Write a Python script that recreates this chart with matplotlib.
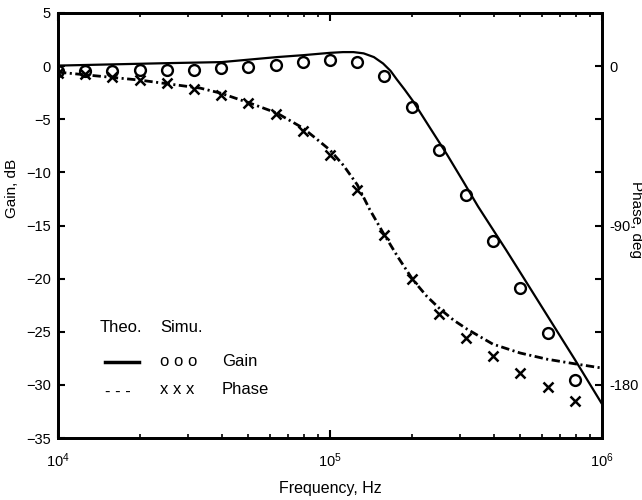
import numpy as np
import matplotlib
matplotlib.use("Agg")
from matplotlib import pyplot as plt
from matplotlib.lines import Line2D
from matplotlib.ticker import FixedLocator, LogLocator, NullFormatter

plt.rcParams['font.family'] = ['Liberation Sans', 'DejaVu Sans']
plt.rcParams['mathtext.fontset'] = 'custom'
plt.rcParams['mathtext.rm'] = 'Liberation Sans'
plt.rcParams['mathtext.default'] = 'regular'
plt.rcParams['lines.scale_dashes'] = False

# simulated points (10 per decade)
freqSim = [1.0e4, 1.26e4, 1.58e4, 2.0e4, 2.51e4, 3.16e4, 3.98e4, 5.01e4, 6.31e4, 7.94e4,
           1.0e5, 1.26e5, 1.58e5, 2.0e5, 2.51e5, 3.16e5, 3.98e5, 5.01e5, 6.31e5, 7.94e5]
gainSim = [-0.5, -0.5, -0.45, -0.4, -0.4, -0.4, -0.2, -0.1, 0.1, 0.35,
           0.55, 0.35, -0.95, -3.85, -7.9, -12.1, -16.5, -20.9, -25.1, -29.5]
phaseSim = [-4.0, -4.5, -6.2, -7.9, -9.6, -13.0, -16.4, -20.9, -27.1, -36.7,
            -50.3, -70.0, -95.4, -120.0, -139.8, -153.6, -163.8, -173.4, -181.0, -188.9]

# theoretical curves
freqGainTh = [1.0e4, 2.52e4, 4.0e4, 6.38e4, 7.96e4, 1.0e5, 1.117e5, 1.22e5, 1.33e5, 1.45e5,
              1.567e5, 1.67e5, 1.76e5, 1.88e5, 2.02e5, 2.33e5, 2.69e5, 3.08e5, 3.50e5, 4.44e5,
              5.0e5, 6.3e5, 7.94e5, 1.0e6]
gainTh = [0.05, 0.28, 0.38, 0.85, 1.03, 1.25, 1.32, 1.32, 1.2, 0.85,
          0.25, -0.45, -1.25, -2.2, -3.3, -5.8, -8.3, -10.8, -13.2, -17.3,
          -19.4, -23.5, -27.6, -31.8]
freqPhaseTh = [1.0e4, 2.0e4, 3.33e4, 3.95e4, 5.08e4, 6.38e4, 7.96e4, 8.9e4, 1.0e5, 1.12e5,
               1.26e5, 1.4e5, 1.57e5, 1.78e5, 2.02e5, 2.27e5, 2.54e5, 2.85e5, 3.19e5, 3.97e5,
               5.0e5, 6.28e5, 8.09e5, 1.0e6]
phaseTh = [-3.4, -7.9, -12.4, -15.2, -20.9, -26.5, -35.0, -41.0, -47.4, -56.0,
           -67.0, -81.0, -94.3, -108.0, -120.8, -130.0, -137.2, -143.5, -148.5, -157.0,
           -162.0, -165.5, -168.3, -170.5]

gainTicks = [5, 0, -5, -10, -15, -20, -25, -30, -35]
phaseTicks = [0, -30, -60, -90, -120, -150, -180]
phaseLabels = ['0', '', '', '-90', '', '', '-180']

fig = plt.figure(figsize=(6.42, 5.0), dpi=100)
ax = fig.add_axes([58/642, 1-438/500, 544/642, 425/500])
ax2 = ax.twinx()

ax.set_xscale('log')
ax.set_xlim(1e4, 1e6)
ax.set_ylim(-35, 5)
ax2.set_ylim(-210, 30)

ax.plot(freqGainTh, gainTh, color='black', lw=1.6, solid_capstyle='butt')
ax.plot(freqSim, gainSim, ls='none', marker='o', ms=7.8, mfc='none', mec='black', mew=1.7)
ax2.plot(freqPhaseTh, phaseTh, color='black', lw=2.0, dashes=[6, 2.5, 1.5, 2.5])
ax2.plot(freqSim, phaseSim, ls='none', marker='x', ms=6.5, mec='black', mew=1.8)

ax.set_yticks(gainTicks)
ax.xaxis.set_major_locator(FixedLocator([1e4, 1e5, 1e6]))
ax.xaxis.set_minor_locator(LogLocator(base=10, subs=np.arange(2, 10)))
ax.xaxis.set_minor_formatter(NullFormatter())
ax.set_xticklabels(['$10^{4}$', '$10^{5}$', '$10^{6}$'])
ax2.set_yticks(phaseTicks)
ax2.set_yticklabels(phaseLabels)

ax.tick_params(axis='x', which='both', direction='in', top=True, colors='black', labelsize=10.5, pad=10)
ax.tick_params(axis='x', which='major', length=6, width=1.5)
ax.tick_params(axis='x', which='minor', length=3, width=1.2)
ax.tick_params(axis='y', direction='in', length=5, width=1.5, labelsize=10.5, pad=5)
ax2.tick_params(axis='y', direction='in', length=5, width=1.5, labelsize=10.5, pad=5)

for a in (ax, ax2):
    for s in a.spines.values():
        s.set_linewidth(2.0)

ax.set_xlabel('Frequency, Hz', fontsize=11.5)
ax.xaxis.set_label_coords(0.5, -0.1)
ax.set_ylabel('Gain, dB', fontsize=11)
ax.yaxis.set_label_coords(-0.072, 0.588)
ax2.set_ylabel('Phase, deg', fontsize=11, rotation=270, va='center')
ax2.yaxis.set_label_coords(1.062, 0.515)

# hand made legend table
lgs = 12
ax.text(0.077, 0.259, 'Theo.', transform=ax.transAxes, fontsize=lgs, va='center')
ax.text(0.188, 0.259, 'Simu.', transform=ax.transAxes, fontsize=lgs, va='center')
ax.add_line(Line2D([0.086, 0.149], [0.179, 0.179], transform=ax.transAxes, color='black', lw=2.5))
ax.text(0.188, 0.181, 'o o o', transform=ax.transAxes, fontsize=lgs, va='center')
ax.text(0.301, 0.181, 'Gain', transform=ax.transAxes, fontsize=lgs, va='center')
ax.text(0.086, 0.110, '- - -', transform=ax.transAxes, fontsize=lgs, va='center')
ax.text(0.188, 0.113, 'x x x', transform=ax.transAxes, fontsize=lgs, va='center')
ax.text(0.301, 0.115, 'Phase', transform=ax.transAxes, fontsize=lgs, va='center')

fig.savefig('out.png', dpi=100)
